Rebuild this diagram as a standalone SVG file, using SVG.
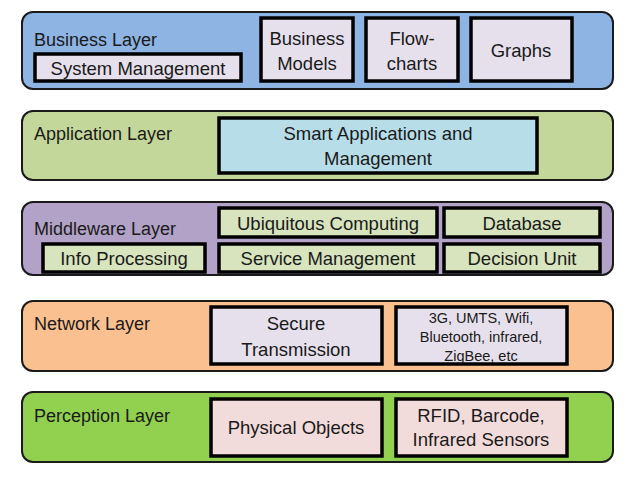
<svg xmlns="http://www.w3.org/2000/svg" width="638" height="481" viewBox="0 0 638 481">
<style>
.layer{stroke:#1a1a1a;stroke-width:2}
.box{stroke:#000;stroke-width:3.5}
text{font-family:"Liberation Sans",Arial,sans-serif;fill:#1a1a1a;font-size:18.5px}
.l{font-size:18px}
.c{text-anchor:middle}
.s{font-size:14.5px}
</style>
<rect width="638" height="481" fill="#fff"/>
<g id="business">
<rect class="layer" x="22" y="12" width="591" height="77" rx="11" fill="#8DB4E2"/>
<text class="l" x="34" y="46">Business Layer</text>
<rect class="box" x="35" y="54" width="206" height="27" fill="#E6E0EC"/>
<text class="c" x="138" y="75">System Management</text>
<rect class="box" x="261" y="18" width="92" height="63" fill="#E6E0EC"/>
<text class="c" x="307" y="45">Business</text>
<text class="c" x="307" y="70">Models</text>
<rect class="box" x="366" y="18" width="92" height="63" fill="#E6E0EC"/>
<text class="c" x="412" y="45">Flow-</text>
<text class="c" x="412" y="70">charts</text>
<rect class="box" x="471" y="18" width="101" height="63" fill="#E6E0EC"/>
<text class="c" x="521" y="57">Graphs</text>
</g>
<g id="application">
<rect class="layer" x="22" y="111" width="591" height="69" rx="11" fill="#C4D79B"/>
<text class="l" x="34" y="140">Application Layer</text>
<rect class="box" x="219" y="118" width="318" height="55" fill="#B7DEE8"/>
<text class="c" x="378" y="140">Smart Applications and</text>
<text class="c" x="378" y="165">Management</text>
</g>
<g id="middleware">
<rect class="layer" x="22" y="202" width="591" height="73" rx="11" fill="#B3A2C7"/>
<text class="l" x="34" y="235">Middleware Layer</text>
<rect class="box" x="219" y="208" width="218" height="29" fill="#D7E4BD"/>
<text class="c" x="328" y="230">Ubiquitous Computing</text>
<rect class="box" x="444" y="208" width="156" height="29" fill="#D7E4BD"/>
<text class="c" x="522" y="230">Database</text>
<rect class="box" x="43" y="244" width="162" height="28" fill="#D7E4BD"/>
<text class="c" x="124" y="265">Info Processing</text>
<rect class="box" x="219" y="244" width="218" height="28" fill="#D7E4BD"/>
<text class="c" x="328" y="265">Service Management</text>
<rect class="box" x="444" y="244" width="156" height="28" fill="#D7E4BD"/>
<text class="c" x="522" y="265">Decision Unit</text>
</g>
<g id="network">
<rect class="layer" x="22" y="301" width="591" height="70" rx="11" fill="#FAC090"/>
<text class="l" x="34" y="330">Network Layer</text>
<rect class="box" x="211" y="307" width="171" height="57" fill="#E6E0EC"/>
<text class="c" x="296" y="330">Secure</text>
<text class="c" x="296" y="356">Transmission</text>
<rect class="box" x="396" y="307" width="171" height="57" fill="#E6E0EC"/>
<text class="c s" x="481" y="323">3G, UMTS, Wifi,</text>
<text class="c s" x="481" y="342">Bluetooth, infrared,</text>
<text class="c s" x="481" y="361">ZigBee, etc</text>
</g>
<g id="perception">
<rect class="layer" x="22" y="392" width="591" height="70" rx="11" fill="#92D050"/>
<text class="l" x="34" y="422">Perception Layer</text>
<rect class="box" x="211" y="399" width="171" height="57" fill="#F2DCDB"/>
<text class="c" x="296" y="434">Physical Objects</text>
<rect class="box" x="396" y="399" width="171" height="57" fill="#F2DCDB"/>
<text class="c" x="481" y="422">RFID, Barcode,</text>
<text class="c" x="481" y="446">Infrared Sensors</text>
</g>
<g id="connectors"/>
</svg>
